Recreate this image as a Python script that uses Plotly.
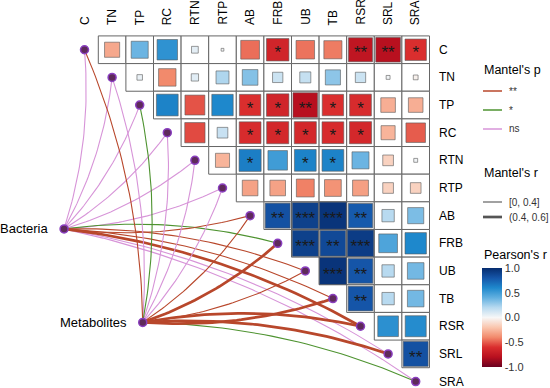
import numpy as np
import plotly.graph_objects as go

# ---------------- data ----------------
env = ["C", "TN", "TP", "RC", "RTN", "RTP", "AB", "FRB", "UB", "TB", "RSR", "SRL", "SRA"]

# Pearson's r, upper triangle: row i, columns i+1 .. end
r_C   = [-0.30, 0.38, 0.55, 0.06, 0.01, -0.46, -0.66, -0.45, -0.43, -0.76, -0.80, -0.60]
r_TN  = [0.04, -0.40, 0.07, 0.22, 0.32, 0.14, 0.16, 0.30, 0.14, 0.02, -0.03]
r_TP  = [0.62, -0.52, 0.60, -0.60, -0.66, -0.80, -0.60, -0.62, -0.28, -0.28]
r_RC  = [-0.54, 0.15, -0.62, -0.64, -0.64, -0.62, -0.64, -0.26, -0.50]
r_RTN = [-0.26, 0.64, 0.50, 0.62, 0.62, 0.38, -0.15, 0.02]
r_RTP = [-0.32, -0.32, -0.42, -0.37, -0.33, -0.15, -0.15]
r_AB  = [0.82, 0.90, 0.96, 0.78, 0.20, 0.34]
r_FRB = [0.90, 0.86, 0.92, 0.46, 0.60]
r_UB  = [0.96, 0.80, 0.20, 0.36]
r_TB  = [0.80, 0.20, 0.36]
r_RSR = [0.56, 0.58]
r_SRL = [0.82]

sig_C   = ["", "", "", "", "", "", "*", "", "", "**", "**", "*"]
sig_TN  = [""] * 11
sig_TP  = ["", "", "", "*", "*", "**", "*", "*", "", ""]
sig_RC  = ["", "", "*", "*", "*", "*", "*", "", ""]
sig_RTN = ["", "*", "", "*", "*", "", "", ""]
sig_RTP = [""] * 7
sig_AB  = ["**", "***", "***", "**", "", ""]
sig_FRB = ["***", "**", "***", "", ""]
sig_UB  = ["***", "**", "", ""]
sig_TB  = ["**", "", ""]
sig_RSR = ["", ""]
sig_SRL = ["**"]

r_rows = [r_C, r_TN, r_TP, r_RC, r_RTN, r_RTP, r_AB, r_FRB, r_UB, r_TB, r_RSR, r_SRL]
sig_rows = [sig_C, sig_TN, sig_TP, sig_RC, sig_RTN, sig_RTP, sig_AB, sig_FRB, sig_UB, sig_TB, sig_RSR, sig_SRL]

# Mantel test classes for each env variable
groups = ["Bacteria", "Metabolites"]
bac_p = ["ns", "ns", "ns", "ns", "ns", "ns", "**", "*", "**", "**", "**", "ns", "ns"]
bac_r = ["[0, 0.4]"] * 10 + ["(0.4, 0.6]"] + ["[0, 0.4]"] * 2
met_p = ["**", "ns", "*", "ns", "ns", "ns", "**", "**", "**", "**", "**", "**", "*"]
met_r = ["[0, 0.4]"] * 7 + ["(0.4, 0.6]", "[0, 0.4]", "(0.4, 0.6]", "(0.4, 0.6]", "(0.4, 0.6]", "[0, 0.4]"]

p_levels = ["**", "*", "ns"]
r_levels = ["[0, 0.4]", "(0.4, 0.6]"]
cbar_ticks = [1.0, 0.5, 0.0, -0.5, -1.0]

# ---------------- styling / layout ----------------
W, H = 550, 388
CELL_X, CELL_Y = 27.6, 27.65
X0_PX, Y0_PX = 84.5, 49.75
FONT = "Arial, Liberation Sans, sans-serif"

p_colors = {"**": "#B8472B", "*": "#4E9330", "ns": "#D794D8"}
r_widths = {"[0, 0.4]": 1.1, "(0.4, 0.6]": 2.7}
group_pos = {"Bacteria": (-0.74, 6.48), "Metabolites": (2.11, 9.86)}
CURV = 0.1

scale_cols = ["#6A0020", "#B8101F", "#DA2E2E", "#F28A6C", "#FAC6AE", "#F7F7F7",
              "#B8DAF0", "#62B0E0", "#1E88CC", "#1555A8", "#062C6E"]
colorscale = [[i / 10, c] for i, c in enumerate(scale_cols)]

xr = [-X0_PX / CELL_X, (W - X0_PX) / CELL_X]
yr = [(H - Y0_PX) / CELL_Y, -Y0_PX / CELL_Y]

fig = go.Figure()

# ---------------- Mantel edges ----------------
def curve_pts(p0, p1, above):
    x0, y0 = p0
    x1, y1 = p1
    dx, dy = x1 - x0, y1 - y0
    L = np.hypot(dx, dy)
    if above:
        n = np.array([-dy, dx]) / L  # right of travel (y down)
    else:
        n = np.array([dy, -dx]) / L  # left of travel
    cx = (x0 + x1) / 2 + n[0] * CURV * L
    cy = (y0 + y1) / 2 + n[1] * CURV * L
    t = np.linspace(0, 1, 40)
    bx = (1 - t) ** 2 * x0 + 2 * t * (1 - t) * cx + t ** 2 * x1
    by = (1 - t) ** 2 * y0 + 2 * t * (1 - t) * cy + t ** 2 * y1
    return bx, by

for g, plist, rlist in [("Bacteria", bac_p, bac_r), ("Metabolites", met_p, met_r)]:
    gx, gy = group_pos[g]
    order = sorted(range(len(env)), key=lambda k: {"ns": 0, "*": 1, "**": 2}[plist[k]])
    for k in order:
        above = k < gy
        bx, by = curve_pts((gx, gy), (k, k), above)
        fig.add_trace(go.Scatter(x=bx, y=by, mode="lines",
                                 line=dict(color=p_colors[plist[k]], width=r_widths[rlist[k]]),
                                 hoverinfo="skip", showlegend=False))

# ---------------- cells ----------------
for i, row in enumerate(r_rows):
    for jj in range(len(row)):
        j = i + 1 + jj
        fig.add_shape(type="rect", xref="x", yref="y",
                      x0=j - 0.5, x1=j + 0.5, y0=i - 0.5, y1=i + 0.5,
                      line=dict(color="#666666", width=1), fillcolor="white", layer="below")

sx, sy, sr, ss, st = [], [], [], [], []
for i, (row, srow) in enumerate(zip(r_rows, sig_rows)):
    for jj, (v, s) in enumerate(zip(row, srow)):
        sx.append(i + 1 + jj)
        sy.append(i)
        sr.append(v)
        ss.append(CELL_X * np.sqrt(abs(v)))
        st.append(s)

fig.add_trace(go.Scatter(
    x=sx, y=sy, mode="markers",
    marker=dict(symbol="square", size=ss, color=sr, cmin=-1, cmax=1,
                colorscale=colorscale, opacity=1,
                line=dict(color="rgba(90,90,90,0.6)", width=1),
                showscale=True,
                colorbar=dict(x=482 / W, xanchor="left", y=1 - 367 / H, yanchor="bottom",
                              len=99 / H, lenmode="fraction", thickness=20,
                              outlinewidth=0, xpad=0, ypad=0, ticks="",
                              tickvals=cbar_ticks,
                              ticktext=[f"{v:.1f}" for v in cbar_ticks],
                              tickfont=dict(size=11, color="#333", family=FONT))),
    hoverinfo="skip", showlegend=False))

fig.add_trace(go.Scatter(
    x=sx, y=[v + 0.16 for v in sy], mode="text", text=st,
    textfont=dict(size=17, color="#1a1a1a", family=FONT),
    hoverinfo="skip", showlegend=False))

# ---------------- nodes ----------------
node_x = list(range(len(env))) + [group_pos[g][0] for g in groups]
node_y = list(range(len(env))) + [group_pos[g][1] for g in groups]
fig.add_trace(go.Scatter(x=node_x, y=node_y, mode="markers",
                         marker=dict(size=8, color="#5E2A5A", line=dict(color="#8A3FC0", width=1.5)),
                         hoverinfo="skip", showlegend=False))

# ---------------- labels ----------------
annotations = []
for j, name in enumerate(env):
    annotations.append(dict(x=j, y=(27 - Y0_PX) / CELL_Y, xref="x", yref="y", text=name,
                            textangle=-90, xanchor="center", yanchor="bottom", showarrow=False,
                            font=dict(size=12, color="black", family=FONT)))
    annotations.append(dict(x=(437 - X0_PX) / CELL_X, y=j, xref="x", yref="y", text=name,
                            xanchor="left", yanchor="middle", showarrow=False,
                            font=dict(size=12, color="black", family=FONT)))
for g in groups:
    gx, gy = group_pos[g]
    annotations.append(dict(x=gx - 0.5, y=gy, xref="x", yref="y", text=g,
                            xanchor="right", yanchor="middle", showarrow=False,
                            font=dict(size=13, color="black", family=FONT)))

def px(x):
    return x / W

def py(y):
    return 1 - y / H

annotations.append(dict(x=px(482), y=py(70), xref="paper", yref="paper", text="Mantel's p",
                        xanchor="left", yanchor="middle", showarrow=False,
                        font=dict(size=12.5, color="black", family=FONT)))
shapes = []
for k, lev in enumerate(p_levels):
    yy = 91 + 19 * k
    shapes.append(dict(type="line", xref="paper", yref="paper", x0=px(483), x1=px(502),
                       y0=py(yy), y1=py(yy), line=dict(color=p_colors[lev], width=1.5)))
    annotations.append(dict(x=px(507), y=py(yy), xref="paper", yref="paper", text=lev,
                            xanchor="left", yanchor="middle", showarrow=False,
                            font=dict(size=10, color="#333", family=FONT)))
annotations.append(dict(x=px(482), y=py(173), xref="paper", yref="paper", text="Mantel's r",
                        xanchor="left", yanchor="middle", showarrow=False,
                        font=dict(size=12.5, color="black", family=FONT)))
for k, lev in enumerate(r_levels):
    yy = 202 + 15 * k
    shapes.append(dict(type="line", xref="paper", yref="paper", x0=px(483), x1=px(502),
                       y0=py(yy), y1=py(yy), line=dict(color="#555", width=r_widths[lev])))
    annotations.append(dict(x=px(507), y=py(yy), xref="paper", yref="paper", text=lev,
                            xanchor="left", yanchor="middle", showarrow=False,
                            font=dict(size=10, color="#333", family=FONT)))
annotations.append(dict(x=px(482), y=py(255), xref="paper", yref="paper", text="Pearson's r",
                        xanchor="left", yanchor="middle", showarrow=False,
                        font=dict(size=12.5, color="black", family=FONT)))

fig.update_layout(
    width=W, height=H, margin=dict(l=0, r=0, t=0, b=0),
    paper_bgcolor="white", plot_bgcolor="white",
    xaxis=dict(range=xr, visible=False, fixedrange=True),
    yaxis=dict(range=yr, visible=False, fixedrange=True),
    annotations=annotations, shapes=fig.layout.shapes + tuple(shapes),
    showlegend=False, font=dict(family=FONT),
)

fig.write_html("out.html", config={"displayModeBar": False},
               post_script="document.body.style.margin='0';document.body.style.padding='0';")
